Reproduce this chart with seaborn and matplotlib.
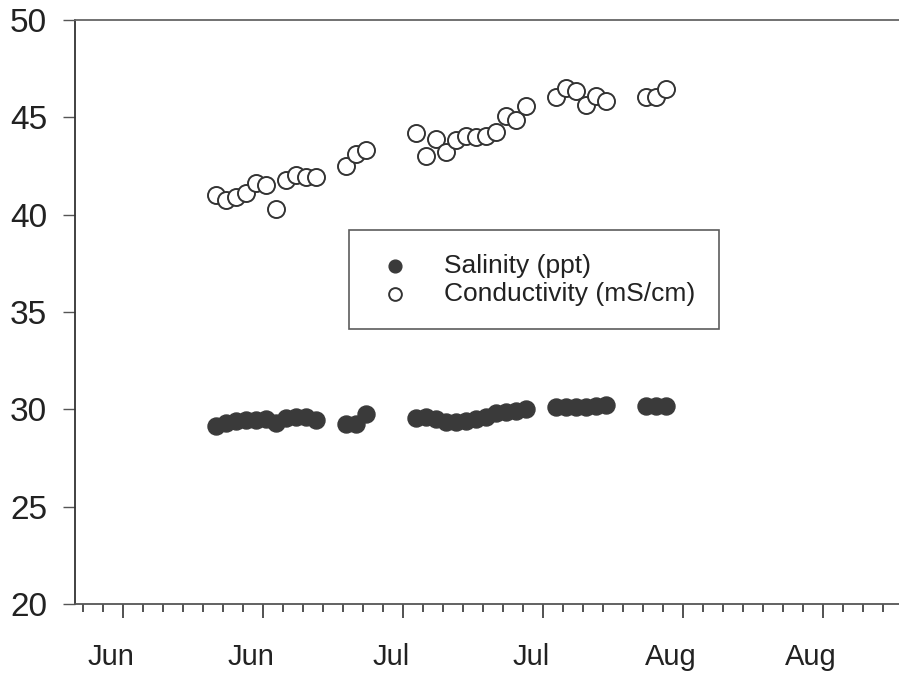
import pandas as pd
import matplotlib
matplotlib.use('Agg')
from matplotlib import pyplot as plt
import matplotlib.dates as mdates
import matplotlib.transforms as mtransforms
import seaborn as sns

# sampling days (each value taken in the morning)
dates = ['2003-06-19', '2003-06-20', '2003-06-21', '2003-06-22', '2003-06-23', '2003-06-24',
         '2003-06-25', '2003-06-26', '2003-06-27', '2003-06-28', '2003-06-29',
         '2003-07-02', '2003-07-03', '2003-07-04',
         '2003-07-09', '2003-07-10', '2003-07-11', '2003-07-12', '2003-07-13', '2003-07-14',
         '2003-07-15', '2003-07-16', '2003-07-17', '2003-07-18', '2003-07-19', '2003-07-20',
         '2003-07-23', '2003-07-24', '2003-07-25', '2003-07-26', '2003-07-27', '2003-07-28',
         '2003-08-01', '2003-08-02', '2003-08-03']

salinity = [29.15, 29.3, 29.4, 29.45, 29.45, 29.5, 29.3, 29.55, 29.6, 29.6, 29.45,
            29.25, 29.25, 29.75,
            29.55, 29.6, 29.5, 29.35, 29.35, 29.4, 29.5, 29.6, 29.8, 29.85, 29.9, 30.0,
            30.1, 30.1, 30.1, 30.1, 30.15, 30.2,
            30.15, 30.15, 30.15]

conductivity = [41.0, 40.75, 40.9, 41.1, 41.65, 41.5, 40.3, 41.8, 42.05, 41.95, 41.95,
                42.5, 43.1, 43.3,
                44.2, 43.0, 43.9, 43.2, 43.85, 44.05, 44.0, 44.05, 44.25, 45.05, 44.85, 45.6,
                46.05, 46.5, 46.35, 45.65, 46.1, 45.85,
                46.05, 46.05, 46.45]

tick_dates = pd.date_range('2003-06-10', periods=6, freq='14D')
minor_dates = pd.date_range('2003-06-06', '2003-08-26', freq='2D')

df = pd.DataFrame({'date': pd.to_datetime(dates) + pd.Timedelta(hours=7),
                   'Salinity': salinity, 'Conductivity': conductivity})

sns.set_style('ticks')
plt.rcParams['font.family'] = ['Liberation Sans', 'DejaVu Sans']

fig = plt.figure(figsize=(8.99, 6.73), dpi=100)
ax = fig.add_axes([75 / 899, 69 / 673, 1 - 75 / 899, 584 / 673])

sns.scatterplot(x='date', y='Salinity', data=df, ax=ax, s=150, color='#3a3a3a',
                edgecolor='#3a3a3a', linewidth=1, label='Salinity (ppt)', zorder=3)
sns.scatterplot(x='date', y='Conductivity', data=df, ax=ax, s=150, color='white',
                edgecolor='#333333', linewidth=1.4, label='Conductivity (mS/cm)', zorder=3)

ax.set_xlim(pd.Timestamp('2003-06-05 05:00'), pd.Timestamp('2003-08-26 14:00'))
ax.set_ylim(20, 50)
ax.set_yticks(range(20, 51, 5))
ax.set_xticks(tick_dates)
ax.set_xticks(minor_dates, minor=True)
ax.xaxis.set_major_formatter(mdates.DateFormatter('%b'))
ax.set_xlabel('')
ax.set_ylabel('')

ax.tick_params(axis='y', length=9, width=1, color='#555555', pad=11, labelsize=24,
               labelcolor='#222222')
ax.tick_params(axis='x', which='major', length=10, width=1.2, color='#333333', pad=18,
               labelsize=21, labelcolor='#222222')
ax.tick_params(axis='x', which='minor', length=6, width=1.2, color='#333333')
shift = mtransforms.ScaledTranslation(-0.12, 0, fig.dpi_scale_trans)
for lab in ax.get_xticklabels():
    lab.set_transform(lab.get_transform() + shift)

ax.spines['right'].set_visible(False)
ax.spines['top'].set_color('#666666')
ax.spines['left'].set_color('#333333')
ax.spines['bottom'].set_color('#555555')
for sp in ['top', 'left', 'bottom']:
    ax.spines[sp].set_linewidth(1.3)

leg = ax.legend(loc='upper left', bbox_to_anchor=(349 / 899, 1 - 230 / 673),
                bbox_transform=fig.transFigure, frameon=True, fancybox=False,
                fontsize=19, markerscale=0.75, handlelength=1.65, handletextpad=1.05,
                borderpad=0.9, labelspacing=0.15, borderaxespad=0)
leg.get_frame().set_edgecolor('#333333')
leg.get_frame().set_linewidth(1.2)
for t in leg.get_texts():
    t.set_color('#222222')

fig.savefig('out.png', dpi=100)
